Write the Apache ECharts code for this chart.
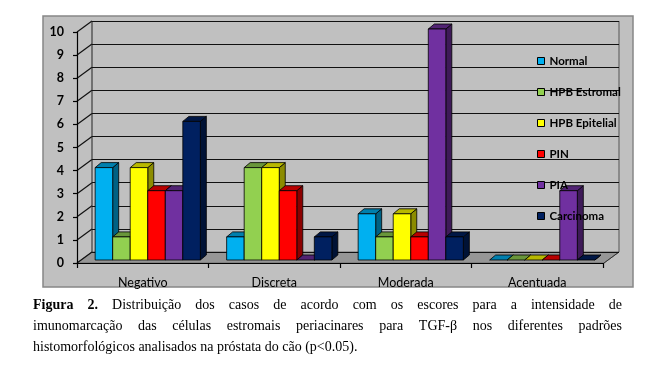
<!DOCTYPE html>
<html><head><meta charset="utf-8">
<script src="https://cdn.jsdelivr.net/npm/echarts@6/dist/echarts.min.js"></script>
<style>html,body{margin:0;padding:0;background:#fff}#c{width:650px;height:370px}</style>
</head><body><div id="c"></div>
<script>
// ---- data ----
const categories = ['Negativo', 'Discreta', 'Moderada', 'Acentuada'];
const seriesNames = ['Normal', 'HPB Estromal', 'HPB Epitelial', 'PIN', 'PIA', 'Carcinoma'];
const normal       = [4, 1, 2, 0];
const hpbEstromal  = [1, 4, 1, 0];
const hpbEpitelial = [4, 4, 2, 0];
const pin          = [3, 3, 1, 0];
const pia          = [3, 0, 10, 3];
const carcinoma    = [6, 1, 1, 0];
const yMin = 0, yMax = 10, yInterval = 1;
const captionLine1 = [['Figura', true], ['2.', true], 'Distribuição', 'dos', 'casos', 'de', 'acordo', 'com', 'os', 'escores', 'para', 'a', 'intensidade', 'de'];
const captionLine2 = ['imunomarcação', 'das', 'células', 'estromais', 'periacinares', 'para', 'TGF-β', 'nos', 'diferentes', 'padrões'];
const captionLine3 = 'histomorfológicos analisados na próstata do cão (p<0.05).';

const allValues = [normal, hpbEstromal, hpbEpitelial, pin, pia, carcinoma];
const colors = ['#00B0F0', '#92D050', '#FFFF00', '#FF0000', '#7030A0', '#002060'];

function shade(hex, f) {
  const n = parseInt(hex.slice(1), 16);
  const r = Math.round(((n >> 16) & 255) * f), g = Math.round(((n >> 8) & 255) * f), b = Math.round((n & 255) * f);
  return 'rgb(' + r + ',' + g + ',' + b + ')';
}

const chart = echarts.init(document.getElementById('c'), null, {renderer: 'canvas'});
const D = [-15, 11];       // back wall -> front offset
const BD = [6, -5];        // bar depth
const nS = seriesNames.length;

function barSeries(i) {
  return {
    type: 'custom', name: seriesNames[i], xAxisIndex: 1, yAxisIndex: 1,
    itemStyle: {color: colors[i]},
    data: allValues[i].map((v, k) => [k, v]),
    z: 3,
    renderItem: function (params, api) {
      const ci = api.value(0), v = api.value(1);
      const band = api.size([1, 0])[0];
      const bw = band * 0.8 / nS;
      const base = api.coord([ci, 0]);
      const top = api.coord([ci, v]);
      const x0 = base[0] - band * 0.4 + i * bw;
      const x1 = x0 + bw;
      const yb = base[1], yt = top[1];
      const st = {stroke: '#000', lineWidth: 0.8, lineJoin: 'round'};
      const ch = [];
      ch.push({type: 'polygon', shape: {points: [[x1, yt], [x1 + BD[0], yt + BD[1]], [x1 + BD[0], yb + BD[1]], [x1, yb]]},
        style: Object.assign({fill: shade(colors[i], 0.55)}, st)});
      ch.push({type: 'polygon', shape: {points: [[x0, yt], [x0 + BD[0], yt + BD[1]], [x1 + BD[0], yt + BD[1]], [x1, yt]]},
        style: Object.assign({fill: shade(colors[i], 0.72)}, st)});
      if (v > 0) {
        ch.push({type: 'rect', shape: {x: x0, y: yt, width: bw, height: yb - yt},
          style: Object.assign({fill: colors[i]}, st)});
      }
      return {type: 'group', children: ch};
    }
  };
}

const decor = {
  type: 'custom', xAxisIndex: 0, yAxisIndex: 0, z: -5, silent: true,
  data: [[0, 0]],
  renderItem: function (params, api) {
    const add = (p) => [p[0] + D[0], p[1] + D[1]];
    const bl = api.coord([0, yMin]), br = api.coord([1, yMin]);
    const tl = api.coord([0, yMax]), tr = api.coord([1, yMax]);
    const ch = [];
    ch.push({type: 'polygon', shape: {points: [bl, br, add(br), add(bl)]}, style: {fill: '#969696', stroke: '#6e6e6e', lineWidth: 1}});
    for (let v = yMin; v <= yMax; v += yInterval) {
      const p = api.coord([0, v]);
      ch.push({type: 'line', shape: {x1: p[0], y1: p[1], x2: p[0] + D[0], y2: p[1] + D[1]}, style: {stroke: '#111', lineWidth: 1.2}});
    }
    ch.push({type: 'line', shape: {x1: bl[0], y1: bl[1], x2: tl[0], y2: tl[1]}, style: {stroke: '#222', lineWidth: 1}});
    ch.push({type: 'line', shape: {x1: br[0], y1: br[1], x2: tr[0], y2: tr[1]}, style: {stroke: '#555', lineWidth: 1}});
    ch.push({type: 'line', shape: {x1: br[0], y1: br[1], x2: br[0] + D[0], y2: br[1] + D[1]}, style: {stroke: '#333', lineWidth: 1}});
    return {type: 'group', children: ch};
  }
};

// caption layout (justified)
const mctx = document.createElement('canvas').getContext('2d');
const capFont = (b) => (b ? 'bold ' : '') + '14px "Liberation Serif"';
function justify(words, xs, xe, y) {
  const ws = words.map(w => Array.isArray(w) ? {t: w[0], b: w[1]} : {t: w, b: false});
  const widths = ws.map(w => { mctx.font = capFont(w.b); return mctx.measureText(w.t).width; });
  const total = widths.reduce((a, b) => a + b, 0);
  const gap = (xe - xs - total) / (ws.length - 1);
  let x = xs; const out = [];
  ws.forEach((w, k) => {
    out.push({type: 'text', x: x, y: y, style: {text: w.t, font: capFont(w.b), fill: '#000', verticalAlign: 'middle', align: 'left'}});
    x += widths[k] + gap;
  });
  return out;
}
const graphics = [
  {type: 'rect', z: -10, shape: {x: 43, y: 16, width: 590, height: 271}, style: {fill: '#C0C0C0', stroke: '#868686', lineWidth: 1.5}}
].concat(justify(captionLine1, 33, 622, 305))
 .concat(justify(captionLine2, 33, 622, 326))
 .concat([{type: 'text', x: 33, y: 347, style: {text: captionLine3, font: capFont(false), fill: '#000', verticalAlign: 'middle', align: 'left'}}]);

const option = {
  animation: false,
  graphic: graphics,
  grid: [
    {left: 92, right: 31, top: 21, bottom: 118},   // back wall
    {left: 82, right: 42, top: 29, bottom: 110},   // bars
    {left: 77, right: 47, top: 32, bottom: 107}    // front axes
  ],
  xAxis: [
    {gridIndex: 0, type: 'value', min: 0, max: 1, show: false},
    {gridIndex: 1, type: 'category', data: categories, show: false},
    {gridIndex: 2, type: 'category', data: categories, boundaryGap: true,
      axisLine: {lineStyle: {color: '#000', width: 1.2}},
      axisTick: {show: true, length: 5, lineStyle: {color: '#000', width: 1.2}},
      axisLabel: {margin: 13, fontFamily: 'Lato', fontSize: 12.5, color: '#000'}}
  ],
  yAxis: [
    {gridIndex: 0, type: 'value', min: yMin, max: yMax, interval: yInterval,
      axisLine: {show: false}, axisTick: {show: false}, axisLabel: {show: false},
      splitLine: {show: true, lineStyle: {color: '#111', width: 1.2}}},
    {gridIndex: 1, type: 'value', min: yMin, max: yMax, interval: yInterval, show: false, splitLine: {show: false}},
    {gridIndex: 2, type: 'value', min: yMin, max: yMax, interval: yInterval,
      axisLine: {show: true, lineStyle: {color: '#000', width: 1.2}},
      axisTick: {show: true, length: 4, lineStyle: {color: '#000', width: 1.2}},
      splitLine: {show: false},
      axisLabel: {margin: 13, fontFamily: 'Lato', fontWeight: 'bold', fontSize: 12.5, color: '#000'}}
  ],
  legend: {
    orient: 'vertical', left: 537, top: 55, padding: 0, data: seriesNames, icon: 'rect',
    itemWidth: 7, itemHeight: 7, itemGap: 19,
    itemStyle: {borderColor: '#000', borderWidth: 1},
    textStyle: {fontFamily: 'Lato', fontWeight: 'bold', fontSize: 11.5, color: '#000', lineHeight: 12}
  },
  series: [decor].concat(seriesNames.map((n, i) => barSeries(i)))
};
chart.setOption(option);
</script></body></html>
